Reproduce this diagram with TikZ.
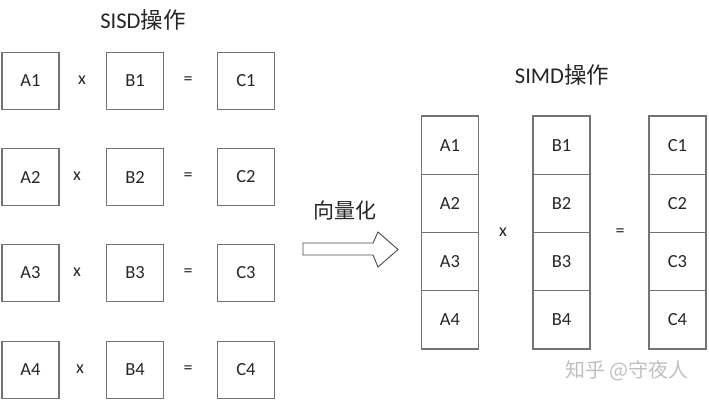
\documentclass[tikz,border=0pt]{standalone}
\usepackage{fontspec}
\setmainfont{Carlito}
\newfontfamily\cjk{Noto Sans CJK SC}
\begin{document}
\begin{tikzpicture}[x=1pt,y=-1pt,
  cell/.style={draw=black!55,line width=1.1pt,minimum width=57pt,minimum height=57pt,inner sep=0pt,text=black!85,font=\fontsize{18.5}{22}\selectfont},
  vcell/.style={cell,minimum height=58.25pt},
  op/.style={text=black!85,font=\fontsize{18}{21}\selectfont,inner sep=0pt},
  ttl/.style={text=black!85,font=\fontsize{22.5}{26}\selectfont,inner sep=0pt},
  wm/.style={text=black!25,font=\fontsize{20}{24}\selectfont,inner sep=0pt}]
\useasboundingbox (0,0) rectangle (709,400);
% SISD
\node[ttl] (t1) at (143,20) {SISD{\cjk 操作}};
\foreach \i/\y/\xo in {1/81/82,2/177/77,3/273/77,4/370/80}{
  \node[cell] (a\i) at (30.5,\y) {A\i};
  \node[op] (x\i) at (\xo,\y-1) {x};
  \node[cell] (b\i) at (135,\y) {B\i};
  \node[op] (e\i) at (188,\y) {=};
  \node[cell] (c\i) at (246,\y) {C\i};
}
% arrow
\node[ttl,font=\fontsize{21}{24}\selectfont] (vt) at (345,210) {\cjk 向量化};
\draw[black!70,line width=0.9pt,fill=white] (303,243) -- (373,243) -- (378,232) -- (398,249.5) -- (378,267) -- (373,255) -- (303,255) -- cycle;
% SIMD
\node[ttl] (t2) at (562,75) {SIMD{\cjk 操作}};
\foreach \i/\y in {1/145.1,2/203.4,3/261.6,4/319.9}{
  \node[vcell] (va\i) at (450,\y) {A\i};
  \node[vcell] (vb\i) at (561.5,\y) {B\i};
  \node[vcell] (vc\i) at (677.5,\y) {C\i};
}
\node[op] (vx) at (503,232) {x};
\node[op] (ve) at (620,233) {=};
% watermark
\node[wm] (w) at (627,371) {\cjk\addfontfeatures{} 知乎 @守夜人};
\end{tikzpicture}
\end{document}
